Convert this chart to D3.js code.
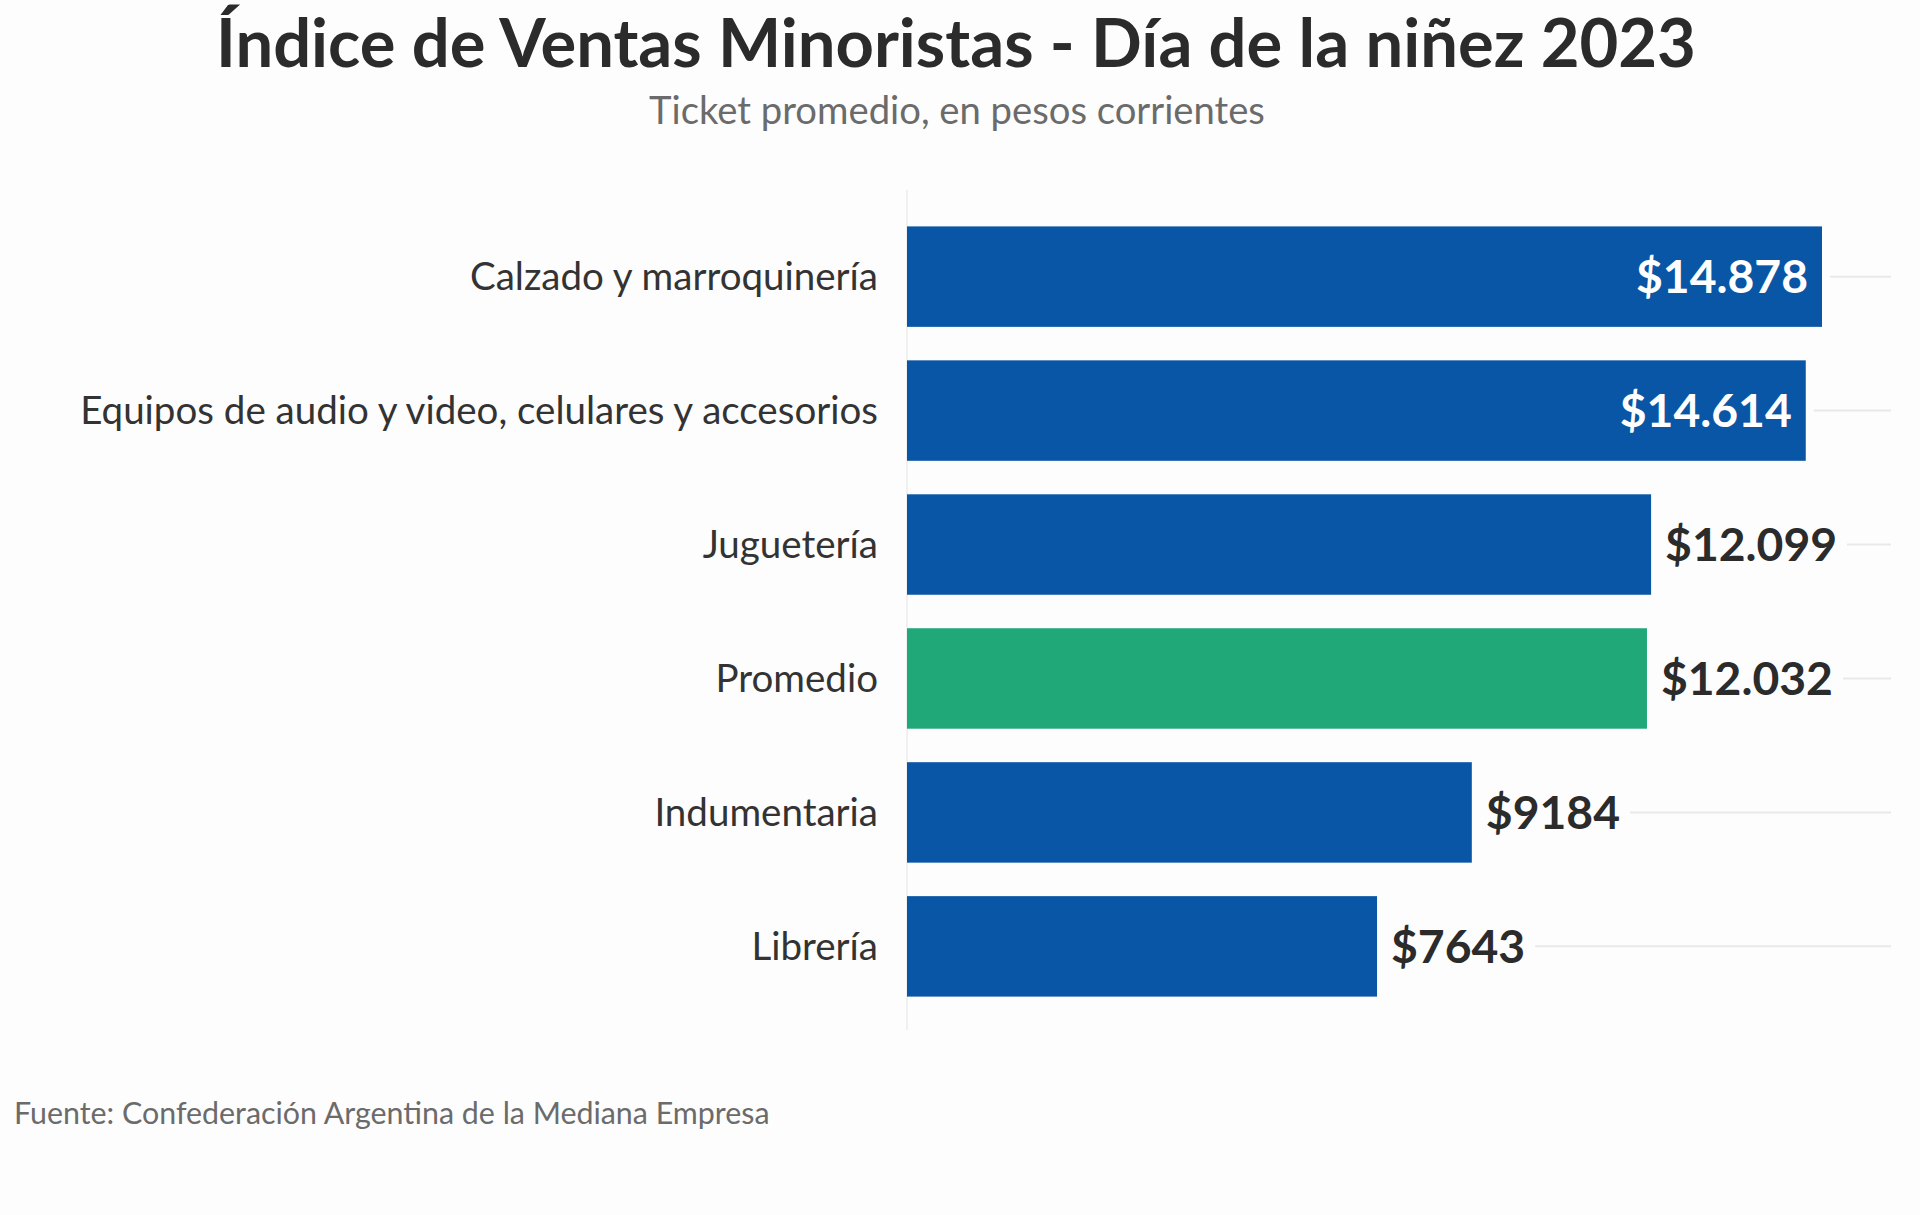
<!DOCTYPE html>
<html>
<head>
<meta charset="utf-8">
<script src="https://cdn.jsdelivr.net/npm/d3@7"></script>
<style>
  html, body { margin: 0; padding: 0; background: #fdfdfd; }
  svg { display: block; }
  text { font-family: Lato, "Source Sans Pro", "Noto Sans", sans-serif; }
</style>
</head>
<body>
<svg id="chart" width="1920" height="1215"></svg>
<script>
// ---- data ----
const categories = [
  "Calzado y marroquinería",
  "Equipos de audio y video, celulares y accesorios",
  "Juguetería",
  "Promedio",
  "Indumentaria",
  "Librería"
];
const values = [14878, 14614, 12099, 12032, 9184, 7643];
const valueLabels = ["$14.878", "$14.614", "$12.099", "$12.032", "$9184", "$7643"];
const highlight = ["Promedio"];
const titleText = "Índice de Ventas Minoristas - Día de la niñez 2023";
const subtitleText = "Ticket promedio, en pesos corrientes";
const sourceText = "Fuente: Confederación Argentina de la Mediana Empresa";
const xDomain = [0, 16000];

// ---- layout ----
const W = 1920, H = 1215;
const plot = { left: 907, right: 1891, top: 213, bottom: 1010 };
const BLUE = "#0a56a6", GREEN = "#21a878";

const svg = d3.select("#chart");
svg.append("rect").attr("width", W).attr("height", H).attr("fill", "#fdfdfd");

function fit(sel, target) {
  const s = parseFloat(sel.attr("font-size"));
  const len = sel.node().getComputedTextLength();
  sel.attr("font-size", (s * target / len).toFixed(2));
  return sel;
}

// title & subtitle
fit(svg.append("text").attr("x", 956).attr("y", 67)
  .attr("text-anchor", "middle").attr("font-size", 56).attr("font-weight", 700)
  .attr("fill", "#2b2b2b").text(titleText), 1480);
fit(svg.append("text").attr("x", 957).attr("y", 124)
  .attr("text-anchor", "middle").attr("font-size", 34)
  .attr("fill", "#6b6b6b").text(subtitleText), 616);

const x = d3.scaleLinear().domain(xDomain).range([plot.left, plot.right]);
const y = d3.scaleBand().domain(categories).range([plot.top, plot.bottom])
  .paddingInner(0.25).paddingOuter(0.1);

// vertical axis line
svg.append("line").attr("x1", plot.left).attr("x2", plot.left)
  .attr("y1", 190).attr("y2", 1030).attr("stroke", "#f0f0f0").attr("stroke-width", 2);

const data = categories.map((c, i) => ({ c, v: values[i], lab: valueLabels[i] }));

const gridG = svg.append("g");
const barG = svg.append("g");
const labG = svg.append("g");

// bars
barG.selectAll("rect").data(data).join("rect")
  .attr("x", x(0)).attr("y", d => y(d.c))
  .attr("width", d => x(d.v) - x(0)).attr("height", y.bandwidth())
  .attr("fill", d => highlight.includes(d.c) ? GREEN : BLUE);

// category labels
const catLabels = labG.selectAll("text.cat").data(data).join("text")
  .attr("class", "cat")
  .attr("x", 878).attr("y", d => y(d.c) + y.bandwidth() / 2)
  .attr("dy", "0.35em").attr("text-anchor", "end")
  .attr("font-size", 34).attr("fill", "#333").text(d => d.c);
{
  const n = catLabels.nodes()[1];
  const len = n.getComputedTextLength();
  catLabels.attr("font-size", (34 * 798 / len).toFixed(2));
}

// value labels
const pad = 14;
const valLabels = labG.selectAll("text.val").data(data).join("text")
  .attr("class", "val")
  .attr("y", d => y(d.c) + y.bandwidth() / 2)
  .attr("dy", "0.36em").attr("font-size", 40).attr("font-weight", 700)
  .text(d => d.lab);
{
  const n = valLabels.nodes()[2];
  const len = n.getComputedTextLength();
  valLabels.attr("font-size", (40 * 172 / len).toFixed(2));
}
valLabels.each(function(d) {
  const t = d3.select(this);
  const w = this.getComputedTextLength();
  const end = x(d.v);
  if (end + pad + w > plot.right) {
    t.attr("x", end - pad).attr("text-anchor", "end").attr("fill", "#ffffff");
    d.gridStart = end + 8;
  } else {
    t.attr("x", end + pad).attr("text-anchor", "start").attr("fill", "#2b2b2b");
    d.gridStart = end + pad + w + 10;
  }
});

// gridlines (light, behind bars, after labels)
gridG.selectAll("line").data(data).join("line")
  .attr("x1", d => d.gridStart).attr("x2", plot.right)
  .attr("y1", d => y(d.c) + y.bandwidth() / 2)
  .attr("y2", d => y(d.c) + y.bandwidth() / 2)
  .attr("stroke", "#e9e9e9").attr("stroke-width", 2);

// source
fit(svg.append("text").attr("x", 14).attr("y", 1124)
  .attr("font-size", 28).attr("fill", "#6b6b6b").text(sourceText), 756);
</script>
</body>
</html>
